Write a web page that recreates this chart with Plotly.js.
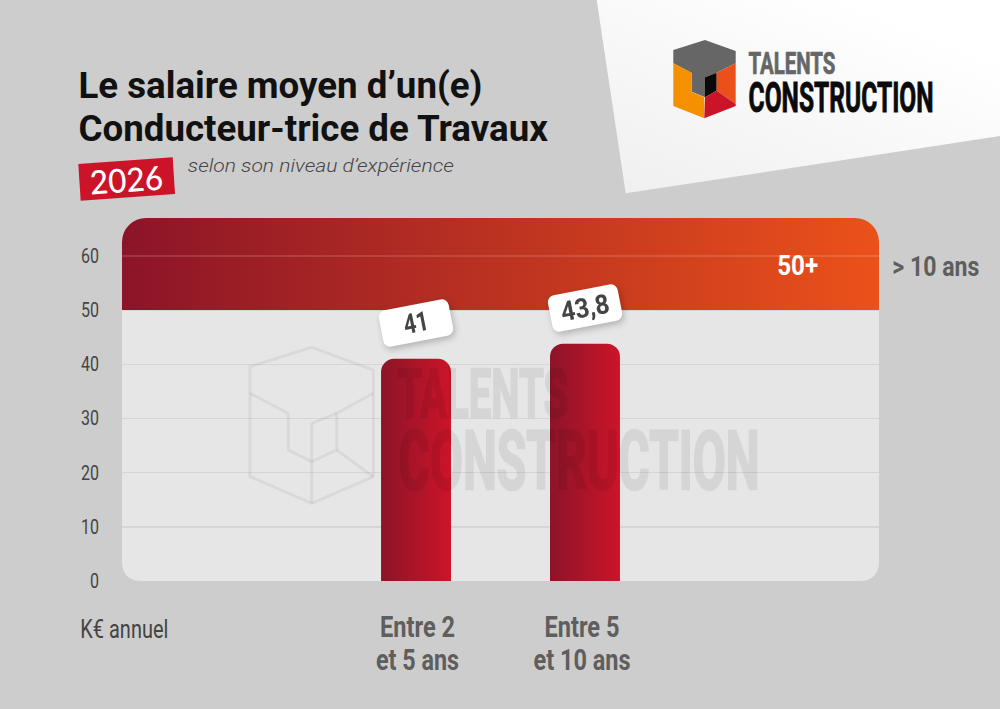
<!DOCTYPE html>
<html>
<head>
<meta charset="utf-8">
<script src="https://cdn.plot.ly/plotly-3.0.1.min.js"></script>
<style>html,body{margin:0;padding:0;background:#cdcdcd}#chart{width:1000px;height:709px}</style>
</head>
<body>
<div id="chart"></div>
<script>
// ---- data ----
const barPositions = [1, 2];
const categoryLabels = ['Entre 2<br>et 5 ans', 'Entre 5<br>et 10 ans'];
const salaries = [41, 43.8];
const salaryLabels = ['41', '43,8'];
const topBandPosition = [1.5];
const topBandBase = [50];
const topBandHeight = [17];
const topBandLowerHeight = [8];
const topBandWidth = [4.48];
const topBandLabel = '50+';
const topBandCategory = '> 10 ans';
const yTicks = [0, 10, 20, 30, 40, 50, 60];

// ---- pixel helpers for decoration ----
const L = 122, R = 879, T = 218, B = 581;
const ax = x => (x - L) / (R - L);
const ay = y => (B - y) / (B - T);
const P = (x, y) => ax(x).toFixed(5) + ',' + ay(y).toFixed(5);
const poly = pts => 'M' + pts.map(p => P(p[0], p[1])).join(' L') + ' Z';
const open = pts => 'M' + pts.map(p => P(p[0], p[1])).join(' L');
const deco = (path, fill, extra) => Object.assign({type:'path', xref:'paper', yref:'paper', path, fillcolor:fill, line:{width:0}, layer:'below'}, extra||{});

const wm = {color:'rgba(0,0,0,0.055)', width:3};
const wmShape = d => ({type:'path', xref:'paper', yref:'paper', path:d, line:wm, layer:'above'});

const shapes = [
  deco(poly([[596.7,0],[1000,0],[1000,136],[625.7,193.3]]), '#fafafa'),
  deco('M'+P(122,300)+' L'+P(879,300)+' L'+P(879,561)+' Q'+P(879,581)+' '+P(859,581)+' L'+P(142,581)+' Q'+P(122,581)+' '+P(122,561)+' Z', '#e6e6e6'),
  deco(poly([[78.3,164],[172.7,157.3],[175,194],[80.7,200.7]]), '#cc1429'),
  // logo
  deco(poly([[673.3,50],[705,40],[735.7,51],[735.7,63.3],[716.7,72.7],[705,77.3],[705,97.3],[691.7,91.7],[691.7,73],[673.3,63.3]]), '#666666'),
  deco(poly([[673.3,63.3],[691.7,72.7],[691.7,92],[704.3,97.3],[704.3,118.3],[673.3,106]]), '#f59100'),
  deco(poly([[705,77.3],[716.7,72.7],[716.7,90.7],[705,97.3]]), '#0a0a0a'),
  deco(poly([[716.7,72.7],[735.7,63.3],[735.7,104],[716.7,90.7]]), '#eb501b'),
  deco(poly([[705,97.3],[716.7,90.7],[735.7,104],[735.7,106],[704.3,118.3]]), '#cc1429'),
  // faint line across the band
  {type:'line', xref:'paper', yref:'y', x0:0, x1:1, y0:60, y1:60, line:{color:'rgba(255,255,255,0.18)', width:1.5}, layer:'above'},
  // watermark
  wmShape(poly([[311.7,347.3],[373.3,370],[373.3,476.7],[311.7,503.3],[250,476.7],[250,366.7]])),
  wmShape(open([[250,393.3],[288.3,413.3],[288.3,450],[311.7,461.7],[336.7,450],[336.7,413.3],[373.3,393.3]])),
  wmShape(open([[311.7,423.3],[336.7,413.3]])),
  wmShape(open([[311.7,423.3],[311.7,503.3]])),
  wmShape(open([[336.7,450],[373.3,476.7]]))
];

const annots = [];
const fits = [];
const strokes = [];
const stretches = [];
function note(text, xp, yp, size, color, family, fit, extra, stroke, stretch){
  const fontExtra = (extra && extra.fontWeight) ? {weight:extra.fontWeight} : {};
  const ex = Object.assign({}, extra||{}); delete ex.fontWeight;
  annots.push(Object.assign({text, xref:'paper', yref:'paper', x:ax(xp), y:ay(yp), xanchor:'center', yanchor:'middle', showarrow:false,
    font:Object.assign({size, color, family}, fontExtra)}, ex));
  fits.push(fit||null);
  strokes.push(stroke||null);
  stretches.push(stretch||null);
}
const RB = 'Roboto, sans-serif';
note('<i>selon son niveau d’expérience</i>', 321, 166, 18.5, '#444444', RB, 266, {fontWeight:300});
note('<b>TALENTS</b>', 791.5, 63, 22, '#666666', RB, 87, null, {c:'#666666', w:0.5}, 1.41);
note('<b>CONSTRUCTION</b>', 840.5, 97, 23.4, '#0a0a0a', RB, 185, null, {c:'#0a0a0a', w:0.5}, 1.8);
note('2026', 126.5, 179, 33, '#ffffff', 'Lato, sans-serif', 73, {textangle:-4, fontWeight:500});
note('<b>TALENTS</b>', 482.5, 394, 44, '#000000', RB, 171, {opacity:0.065}, {c:'#000000', w:1.5}, 1.53);
note('<b>CONSTRUCTION</b>', 578.5, 461, 45.7, '#000000', RB, 361, {opacity:0.065}, {c:'#000000', w:1.5}, 1.78);
note('K€ annuel', 124, 629, 26, '#444444', RB, 88);
note('<b>'+topBandCategory+'</b>', 936, 266, 28, '#5e5e5e', RB, 87);
// band value label, placed on the data scale
annots.push({text:'<b>'+topBandLabel+'</b>', xref:'x', yref:'y', x:3.26, y:58.3, showarrow:false, font:{size:28, color:'#ffffff', family:RB}});
fits.push(41); strokes.push(null); stretches.push(null);
const labelStart = annots.length;
salaries.forEach((v,i)=>{
  annots.push({text:'<b>'+salaryLabels[i]+'</b>', xref:'x', yref:'y', x:barPositions[i], y:v, yanchor:'middle', xanchor:'center', yshift:36, showarrow:false,
    textangle:-11, width:68, height:34, bgcolor:'#ffffff', font:{size:27, color:'#444444', family:RB}});
  fits.push(i===0?25:49); strokes.push(null); stretches.push(null);
});

const traces = [
  {type:'bar', x:topBandPosition, y:topBandHeight, base:topBandBase, width:topBandWidth, marker:{color:'#c03a1f', cornerradius:24, line:{width:0}}, hoverinfo:'skip', showlegend:false},
  {type:'bar', x:topBandPosition, y:topBandLowerHeight, base:topBandBase, width:topBandWidth, marker:{color:'#c03a1f', line:{width:0}}, hoverinfo:'skip', showlegend:false},
  {type:'bar', x:barPositions, y:salaries, width:0.414, marker:{color:'#b01428', cornerradius:13, line:{width:0}}, hoverinfo:'skip', showlegend:false}
];

const layout = {
  width:1000, height:709,
  margin:{l:L, r:1000-R, t:T, b:709-B, pad:0},
  paper_bgcolor:'#cdcdcd', plot_bgcolor:'rgba(0,0,0,0)',
  barmode:'overlay', showlegend:false,
  font:{family:RB},
  title:{text:'<b>Le salaire moyen d’un(e)<br>Conducteur-trice de Travaux</b>', xref:'container', yref:'container', x:0.0785, y:1-98/709, xanchor:'left', yanchor:'top',
    font:{size:36.7, color:'#111111', family:RB}},
  xaxis:{range:[-0.74,3.74], tickmode:'array', tickvals:barPositions, ticktext:categoryLabels, showgrid:false, zeroline:false, showline:false,
    ticks:'outside', ticklen:19, tickcolor:'rgba(0,0,0,0)', tickfont:{size:30, color:'#5e5e5e', family:RB, weight:700}},
  yaxis:{range:[0,67], tickmode:'array', tickvals:yTicks, showgrid:true, gridcolor:'rgba(0,0,0,0.07)', gridwidth:1.5, zeroline:false, showline:false,
    ticks:'outside', ticklen:18, tickcolor:'rgba(0,0,0,0)', tickfont:{size:20, color:'#444444', family:RB}},
  shapes, annotations:annots
};

function squeeze(el, target){
  el.setAttribute('textLength', target);
  el.setAttribute('lengthAdjust', 'spacingAndGlyphs');
}
function gradient(svg, id, stops){
  const NS = 'http://www.w3.org/2000/svg';
  let defs = svg.querySelector('defs');
  if(!defs){defs = document.createElementNS(NS,'defs'); svg.insertBefore(defs, svg.firstChild);}
  const g = document.createElementNS(NS,'linearGradient');
  g.setAttribute('id', id);
  g.setAttribute('x1', stops.x1||0); g.setAttribute('y1', stops.y1||0);
  g.setAttribute('x2', stops.x2===undefined?1:stops.x2); g.setAttribute('y2', stops.y2||0);
  stops.c.forEach((c,i)=>{
    const s = document.createElementNS(NS,'stop');
    s.setAttribute('offset', i/(stops.c.length-1));
    s.setAttribute('stop-color', c);
    g.appendChild(s);
  });
  defs.appendChild(g);
}

Plotly.newPlot('chart', traces, layout, {displayModeBar:false, staticPlot:true}).then(gd=>{
  const svg = gd.querySelector('svg.main-svg');
  gradient(svg,'bandGrad',{c:['#8c1428','#eb511a']});
  gradient(svg,'barGrad',{c:['#8c1428','#cc1429']});
  gradient(svg,'paperGrad',{x1:0,y1:1,x2:0.75,y2:0.1,c:['#efefef','#ffffff']});
  const barTraces = gd.querySelectorAll('.barlayer .trace');
  barTraces[0].querySelectorAll('.point path').forEach(p=>p.style.fill='url(#bandGrad)');
  barTraces[1].querySelectorAll('.point path').forEach(p=>p.style.fill='url(#bandGrad)');
  barTraces[2].querySelectorAll('.point path').forEach(p=>p.style.fill='url(#barGrad)');
  const paper = gd.querySelector('.shapelayer path[data-index="0"]');
  if(paper) paper.style.fill='url(#paperGrad)';
  // annotations: fit widths, tall condensed logo lettering
  gd.querySelectorAll('.annotation').forEach(a=>{
    const i = +a.getAttribute('data-index');
    const t = a.querySelector('text.annotation-text');
    if(t && fits[i]) squeeze(t, fits[i]);
    if(t && strokes[i]){ t.style.stroke = strokes[i].c; t.style.strokeWidth = strokes[i].w+'px'; }
    if(t && stretches[i]){
      t.style.transformBox = 'fill-box';
      t.style.transformOrigin = 'center';
      t.style.transform = 'scaleY('+stretches[i]+')';
    }
    if(i>=labelStart){
      const r = a.querySelector('rect.bg');
      if(r){r.setAttribute('rx',7); r.setAttribute('ry',7);}
      a.style.filter='drop-shadow(2px 3px 3px rgba(0,0,0,0.22))';
    }
  });
  // title: tighter line spacing
  const titleLines = gd.querySelectorAll('.gtitle tspan.line');
  if(titleLines[1]) titleLines[1].setAttribute('dy','43px');
  // x tick labels: narrow each line
  const widths = [[75,83],[75,97]];
  const nudges = [1.5,-3];
  gd.querySelectorAll('.xtick text').forEach((t,i)=>{
    t.querySelectorAll('tspan.line').forEach((s,j)=>{
      squeeze(s, widths[i][j]);
      if(j===1) s.setAttribute('dy','33px');
      const x = parseFloat(s.getAttribute('x'));
      if(!isNaN(x)) s.setAttribute('x', x+nudges[i]);
    });
  });
  // y tick labels slightly narrowed
  gd.querySelectorAll('.ytick text').forEach(t=>{
    squeeze(t, t.getComputedTextLength()*0.8);
  });
});
</script>
</body>
</html>
